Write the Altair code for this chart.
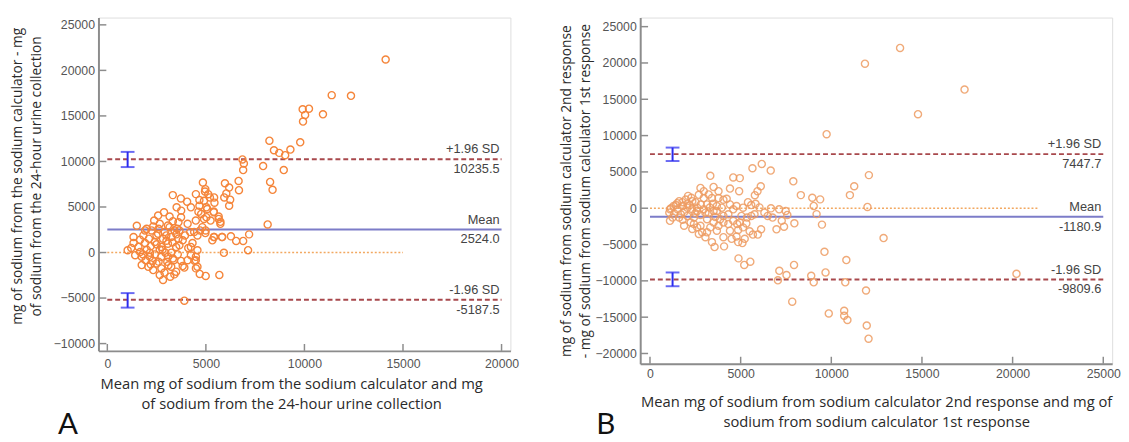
import altair as alt
import pandas as pd

# ---------------- Panel A data ----------------
a_x = [14120, 11384, 12361, 9910, 10230, 10034, 9928, 10940, 8223, 9786, 8454, 8720, 9288, 9022,
       6855, 6927, 7903, 6891, 8951, 6660, 8258, 8383, 6678, 4848, 5967, 6180, 6038, 6233, 6180,
       5932, 3321, 3730, 4049, 4493, 4973, 4671, 5204, 5417, 5435, 5399, 5026, 4671, 3516, 3747,
       5648, 5737, 4760, 5026, 8134, 7193, 6891, 6536, 6270, 5826, 5417, 5328, 4973, 7140, 5914,
       5683, 4991, 4689, 4493, 4422, 3907, 4493,
       1496, 1031, 1330, 1579, 1413, 1745, 1745, 1945, 2078, 2161, 2327, 2493, 2660, 2826, 2743,
       3192, 3042, 3242, 3491, 3824, 4073, 4239, 4489, 4572,
       1828, 1995, 2327, 2577, 2876, 3159, 2660, 2909, 3242, 3408, 3608, 3741, 4073, 4206,
       3824, 3491, 3075, 2743, 2410, 2111, 4106, 4322, 4572, 4489, 4622, 4954, 4904, 5070, 5237,
       5403, 5652, 5735, 5403, 5818, 4987, 4705, 4406, 3075, 2377, 3159, 3242, 3574, 3741, 3907,
       2410, 2660, 2943, 1912, 1662, 1214, 2244, 2577, 2826, 3608, 3940, 3541, 4904, 5120, 4821,
       4239, 3657, 3325, 2493, 2992, 2161, 1662, 3075, 2743, 3375, 4239, 4572, 3657, 1330, 1912,
       3325, 2200, 2500, 2800, 3000, 3300, 3500, 2600, 2000, 1800, 2300, 2600, 3100, 3400, 2900,
       2200]
a_y = [21195, 17282, 17210, 15724, 15796, 15108, 14383, 15180, 12282, 12101, 11231, 10942, 11304,
       10688, 10217, 9782, 9492, 9058, 9058, 7862, 7753, 6884, 6848, 7681, 7608, 7137, 6485, 5797,
       5145, 6050, 6304, 5942, 5580, 6413, 6956, 5761, 6050, 6050, 5471, 4493, 4964, 5145, 4964,
       4601, 3949, 3370, 4239, 3877, 3080, 1993, 1268, 1268, 1775, 1703, 1703, 1341, 2138, 254,
       -36, -2464, -2572, -2355, -1739, -906, -5290, -471,
       2931, 248, 1047, 612, -294, -475, -1381, -837, -1562, -22, -1925, -1200, -2469, -3013,
       -1744, -2650, -1019, -1562, -2106, -1490, -837, -294, -837, -1562,
       1881, 2605, 2859, 4055, 4417, 3946, 3149, 2243, 1699, 2424, 3330, 3874, 3149, 2243,
       1337, 612, 975, 612, 1156, 1518, 503, 1047, 1880, 3511, 4489, 6700, 5685, 4779, 3511,
       4417, 3692, 3149, 1699, 1699, 2424, 2424, 2243, 2968, 3511, 2787, -22, -203, -928, -1653,
       -203, 340, -22, 1047, 1409, 503, 2424, 2062, 1518, 1518, 1880, 2605, 3692, 6410, 2787,
       4961, 2424, 3439, 1880, 1880, -475, 62, -475, -475, -837, 612, 250, 794, 1700, 2424,
       -656, 700, 900, 300, 1300, 1100, 2000, 2600, 300, -200, -900, -1000, -1400, -2400, -2200,
       -1300]

# ---------------- Panel B data ----------------
b_x = [13793, 11856, 17349, 14781, 9742, 12073, 11263, 11026, 11994, 7904, 8319, 8951, 9386, 9030,
       9188, 9485, 7963, 12883, 9623, 10829, 4881, 5197, 5533, 7944, 7133, 7529, 7054, 8892, 9030,
       9682, 10769, 20214, 11915, 7845, 9860, 10710, 10710, 10888, 11955, 12054, 5651, 6165, 6659,
       3326, 4591, 4953, 3507, 2784, 4411, 4917, 6110, 5929, 5784, 7393, 6977, 7267, 7574, 6670,
       6490, 6309, 6128, 5947, 5676, 5495, 5314, 5224, 5097, 4863, 4772, 4863, 4809, 5043, 5350,
       5584, 5820, 4086, 3562, 3417, 3056, 3146, 2875, 2694, 2603, 2332, 2241, 1880, 1609, 1247,
       1102, 1066, 1157, 1428, 1609, 1970, 2332, 2694, 2965, 3146, 3417, 3779, 4050, 4230, 4411,
       3960, 3688, 3507, 3236, 2965, 2603, 2332, 2061, 1790, 1519, 1338, 1699, 2061, 2422, 2784,
       3146, 3507, 3779, 4050, 4321, 4592, 4321, 4050, 3869, 3688, 3472, 2513, 2965, 3779, 3236,
       2278, 1790, 2061, 2603, 3056, 4592, 4772, 5133, 5404, 5765, 6037, 6761, 7122, 7484, 3326,
       2422, 2784, 4050, 4501, 3688, 4411, 4953, 5133, 5584, 1102,
       1300, 1500, 1900, 2200, 2500, 2800, 3300, 3600, 1800, 2100]
b_y = [22069, 19902, 16337, 12952, 10199, 4558, 3024, 1805, 181, 3701, 1805, 1444, 1219, 316,
       -812, -2257, -2076, -4107, -6002, -7131, -6905, -7808, -7356, -7808, -8620, -9207, -9929,
       -9297, -10199, -8846, -10199, -9026, -11327, -12862, -14487, -14126, -14803, -15389, -16157,
       -17962, 5506, 6093, 5190,
       4462, 4236, 4146, 2927, 2792, 2702, 2341, 3018, 2341, 1800, -2546, -2907, -1733, -921, -18,
       -1058, -606, -2907, -3629, -3629, -3178, -2095, -4215, -4801, -4666, -3899, -2998, -2186,
       -1058, -1284, 431, 611, -5252, -5343, -4666, -3990, -3313, -3313, -3539, -2637, -2862,
       -1960, -2411, -1284, -1284, -1735, -606, -18, 431, 972, 1198, 972, 1848, 1397, 520, 1397,
       1397, 1172, 1307, 520, 70, 296, -380, -606, -155, 70, -155, 70, 296, -155, -741, -831,
       -1058, -1284, -921, -1509, -1960, -2411, -1960, -2186, -1735, -831, -1058, -1509, -380,
       611, 836, 2341, 2341, 1897, 1442, 836, 611, -380, -606, -155, 296, 70, 836, -831, 115,
       -1284, -155, -380, -2637, -2186, -2411, -3990, -4215, -3088, -3088, -1960, -2637, -1058,
       -155, 300, 700, -500, 400, -700, 500, 100, -1200, -1600, 1700]

a_xticks = [0, 5000, 10000, 15000, 20000]
a_yticks = [-10000, -5000, 0, 5000, 10000, 15000, 20000, 25000]
b_xticks = [0, 5000, 10000, 15000, 20000, 25000]
b_yticks = [-20000, -15000, -10000, -5000, 0, 5000, 10000, 15000, 20000, 25000]

a_stats = {"upper": 10235.5, "mean": 2524.0, "lower": -5187.5}
b_stats = {"upper": 7447.7, "mean": -1180.9, "lower": -9809.6}
a_ci = {"x": 1030, "up": [9383, 11050], "lo": [-6050, -4456]}
b_ci = {"x": 1245, "up": [6499, 8349], "lo": [-10741, -8845]}
a_zero_end = 15000
b_zero_end = 21380

AX_COLOR = "#8c8c8c"
LBL_COLOR = "#555555"
TITLE_COLOR = "#2a2a2a"
TITLE_FONT = "Open Sans"


def panel(xs, ys, xdom, ydom, w, h, xticks, yticks, stats, ci, zero_end, x_end,
          pcolor, popacity, xtitle, ytitle, xlabpad, xtitlepad, ytitlepad, xtitle_x, ytitle_y,
          letter, letter_xy):
    xaxis = alt.Axis(values=xticks, ticks=False, grid=False, domainColor=AX_COLOR, domainWidth=2,
                     labelColor=LBL_COLOR, labelFont="Liberation Sans", labelFontSize=12.5,
                     labelPadding=xlabpad, format="d", labelFlush=False, labelOverlap=False,
                     title=xtitle, titleFont=TITLE_FONT, titleFontSize=15, titleFontWeight="normal",
                     titleColor=TITLE_COLOR, titlePadding=xtitlepad, titleLineHeight=20,
                     titleX=xtitle_x)
    yaxis = alt.Axis(values=yticks, ticks=False, grid=False, domainColor=AX_COLOR, domainWidth=2,
                     labelColor=LBL_COLOR, labelFont="Liberation Sans", labelFontSize=12.5,
                     labelPadding=4, format="d", labelFlush=False, labelOverlap=False,
                     title=ytitle, titleFont=TITLE_FONT, titleFontSize=14, titleFontWeight="normal",
                     titleColor=TITLE_COLOR, titlePadding=ytitlepad, titleLineHeight=19,
                     titleY=ytitle_y)
    xsc = alt.Scale(domain=xdom, nice=False, zero=False)
    ysc = alt.Scale(domain=ydom, nice=False, zero=False)

    def X(f):
        return alt.X(f, type="quantitative", scale=xsc, axis=xaxis)

    def Y(f):
        return alt.Y(f, type="quantitative", scale=ysc, axis=yaxis)

    pts = pd.DataFrame({"x": xs, "y": ys})
    points = alt.Chart(pts).mark_point(shape="circle", filled=False, size=52, strokeWidth=1.4,
                                       color=pcolor, opacity=popacity).encode(x=X("x"), y=Y("y"))

    zero = alt.Chart(pd.DataFrame({"x": [0], "x2": [zero_end], "y": [0]})).mark_rule(
        color="#f2a860", strokeWidth=1.5, strokeDash=[2, 2]).encode(x=X("x"), x2="x2:Q", y=Y("y"))

    lim = pd.DataFrame({"x": [0, 0], "x2": [x_end, x_end], "y": [stats["upper"], stats["lower"]]})
    limits = alt.Chart(lim).mark_rule(color="#a8484c", strokeWidth=2, strokeDash=[5, 3]).encode(
        x=X("x"), x2="x2:Q", y=Y("y"))

    mn = pd.DataFrame({"x": [0], "x2": [x_end], "y": [stats["mean"]]})
    meanl = alt.Chart(mn).mark_rule(color="#7c7cc8", strokeWidth=2).encode(
        x=X("x"), x2="x2:Q", y=Y("y"))

    cidf = pd.DataFrame({"x": [ci["x"], ci["x"]], "y": [ci["up"][0], ci["lo"][0]],
                         "y2": [ci["up"][1], ci["lo"][1]]})
    cibar = alt.Chart(cidf).mark_rule(color="#2b2bee", strokeWidth=2).encode(
        x=X("x"), y=Y("y"), y2="y2:Q")
    capdf = pd.DataFrame({"x": [ci["x"]] * 4,
                          "y": [ci["up"][0], ci["up"][1], ci["lo"][0], ci["lo"][1]]})
    caps = alt.Chart(capdf).mark_tick(color="#2b2bee", orient="horizontal", size=14,
                                      thickness=2).encode(x=X("x"), y=Y("y"))

    fmt = lambda v: f"{v:.1f}"
    lab_top = pd.DataFrame({"x": [x_end] * 3,
                            "y": [stats["upper"], stats["mean"], stats["lower"]],
                            "t": ["+1.96 SD", "Mean", "-1.96 SD"]})
    lab_bot = pd.DataFrame({"x": [x_end] * 3,
                            "y": [stats["upper"], stats["mean"], stats["lower"]],
                            "t": [fmt(stats["upper"]), fmt(stats["mean"]), fmt(stats["lower"])]})
    ttop = alt.Chart(lab_top).mark_text(align="right", baseline="bottom", dy=-3, dx=-2,
                                        font="Liberation Sans", fontSize=13, color="#444444").encode(
        x=X("x"), y=Y("y"), text="t:N")
    tbot = alt.Chart(lab_bot).mark_text(align="right", baseline="top", dy=4, dx=-2,
                                        font="Liberation Sans", fontSize=13, color="#444444").encode(
        x=X("x"), y=Y("y"), text="t:N")

    xt = alt.Chart(pd.DataFrame({"x": xticks})).mark_rule(color=AX_COLOR, strokeWidth=1.5).encode(
        x=X("x"), y=alt.value(h), y2=alt.value(h - 7))
    yt = alt.Chart(pd.DataFrame({"y": yticks})).mark_rule(color=AX_COLOR, strokeWidth=1.5).encode(
        y=Y("y"), x=alt.value(0), x2=alt.value(8))

    lt = alt.Chart(pd.DataFrame({"t": [letter]})).mark_text(
        font="Lato", fontSize=30, color="#111111", align="center", baseline="middle").encode(
        x=alt.value(letter_xy[0]), y=alt.value(letter_xy[1]), text="t:N")

    return alt.layer(zero, limits, meanl, points, cibar, caps, ttop, tbot, xt, yt, lt).properties(
        width=w, height=h)


left = panel(a_x, a_y, [-450, 20450], [-10800, 25800], 419, 339, a_xticks, a_yticks, a_stats,
             a_ci, a_zero_end, 20000, "#f5853a", 1.0,
             ["Mean mg of sodium from the sodium calculator  and mg",
              "of sodium from the 24-hour urine collection"],
             ["mg of sodium from the sodium calculator - mg",
              "of sodium from the 24-hour urine collection"],
             7, 7, 10, 196, 161, "A", (-31, 415))

right = panel(b_x, b_y, [-540, 25490], [-21400, 26250], 480, 352, b_xticks, b_yticks, b_stats,
              b_ci, b_zero_end, 25000, "#ee9c62", 0.85,
              ["Mean mg of sodium from sodium calculator 2nd response and mg of",
               "sodium from sodium calculator 1st response"],
              ["mg of sodium from sodium calculator  2nd response",
               "- mg of sodium from sodium calculator 1st response"],
              4, 15, 3, 240, 176, "B", (-35, 415))

chart = alt.hconcat(left, right, spacing=40).properties(
    padding={"left": 2, "top": 5, "right": 0, "bottom": 0}
).configure_view(stroke=None).configure(background="white")

chart.save("out.html", embed_options={"renderer": "svg", "actions": False})
